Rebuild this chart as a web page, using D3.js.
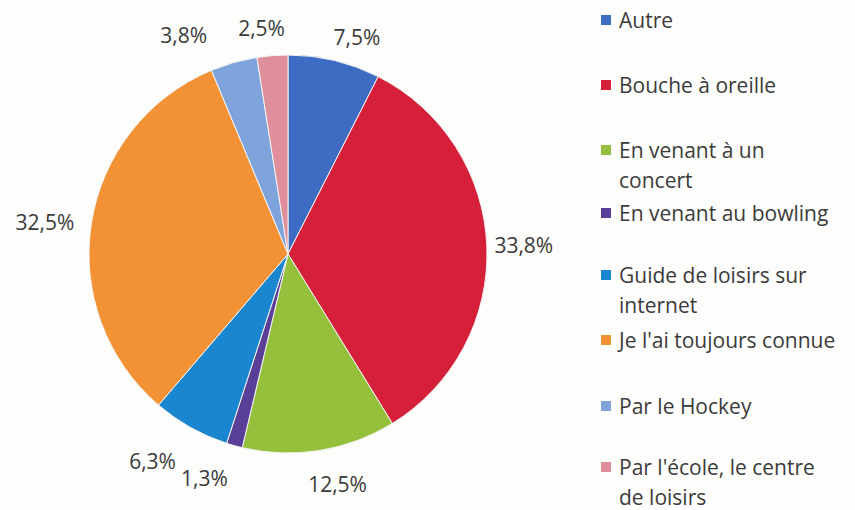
<!DOCTYPE html>
<html>
<head>
<meta charset="utf-8">
<script src="https://cdn.jsdelivr.net/npm/d3@7/dist/d3.min.js"></script>
<style>
  html, body { margin: 0; padding: 0; background: #fdfdfc; }
  svg { display: block; }
  text { font-family: "Open Sans", "Liberation Sans", sans-serif; fill: #3b3b3b; }
</style>
</head>
<body>
<svg id="chart" width="855" height="510"></svg>
<script>
// Comment avez-vous connu ... ? — share of answers per source
const categories = [
  "Autre",
  "Bouche à oreille",
  "En venant à un concert",
  "En venant au bowling",
  "Guide de loisirs sur internet",
  "Je l'ai toujours connue",
  "Par le Hockey",
  "Par l'école, le centre de loisirs"
];
const values = [7.5, 33.8, 12.5, 1.3, 6.3, 32.5, 3.8, 2.5];
const valueLabels = ["7,5%", "33,8%", "12,5%", "1,3%", "6,3%", "32,5%", "3,8%", "2,5%"];
// legend entries wrapped over one or two lines
const legendLines = [
  ["Autre"],
  ["Bouche à oreille"],
  ["En venant à un", "concert"],
  ["En venant au bowling"],
  ["Guide de loisirs sur", "internet"],
  ["Je l'ai toujours connue"],
  ["Par le Hockey"],
  ["Par l'école, le centre", "de loisirs"]
];
const colors = ["#3d6cc2", "#d6203a", "#95c03b", "#5a3f99", "#1b86d0", "#f29234", "#7fa4db", "#df8f9b"];

// small hand nudges for crowded outside labels
const labelNudge = [[14, -4], [0, 0], [12, 14], [-20, 13], [-20, 16], [-10, 2], [-40, -8], [-8, -8]];

const svg = d3.select("#chart");
const cx = 288, cy = 254, r = 199;

const pie = d3.pie().sort(null).value(d => d).startAngle(0).endAngle(2 * Math.PI);
const arcs = pie(values);
const arc = d3.arc().innerRadius(0).outerRadius(r);

const g = svg.append("g").attr("transform", `translate(${cx},${cy})`);
g.selectAll("path.slice")
  .data(arcs)
  .join("path")
  .attr("class", "slice")
  .attr("d", arc)
  .attr("fill", (d, i) => colors[i])
  .attr("stroke", "#f4f4f4")
  .attr("stroke-width", 1);

// outside-end labels: box edge sits just beyond the rim
const gap = 8, halfW = 29, halfH = 12;
g.selectAll("text.lbl")
  .data(arcs)
  .join("text")
  .attr("class", "lbl")
  .attr("font-size", 21)
  .attr("text-anchor", "middle")
  .attr("dominant-baseline", "central")
  .attr("x", (d, i) => {
    const a = (d.startAngle + d.endAngle) / 2;
    return (r + gap + halfW) * Math.sin(a) + labelNudge[i][0];
  })
  .attr("y", (d, i) => {
    const a = (d.startAngle + d.endAngle) / 2;
    return -(r + gap + halfH) * Math.cos(a) + labelNudge[i][1];
  })
  .text((d, i) => valueLabels[i]);

// legend
const legendRowY = [20, 85, 150, 213, 275, 340, 406, 467];
const lineH = 30;
const lg = svg.append("g");
categories.forEach((c, i) => {
  const row = lg.append("g").attr("transform", `translate(601,${legendRowY[i]})`);
  row.append("rect")
    .attr("x", 0).attr("y", -5)
    .attr("width", 10).attr("height", 10)
    .attr("fill", colors[i]);
  legendLines[i].forEach((ln, j) => {
    row.append("text")
      .attr("x", 18).attr("y", j * lineH)
      .attr("font-size", 21)
      .attr("dominant-baseline", "central")
      .text(ln);
  });
});
</script>
</body>
</html>
